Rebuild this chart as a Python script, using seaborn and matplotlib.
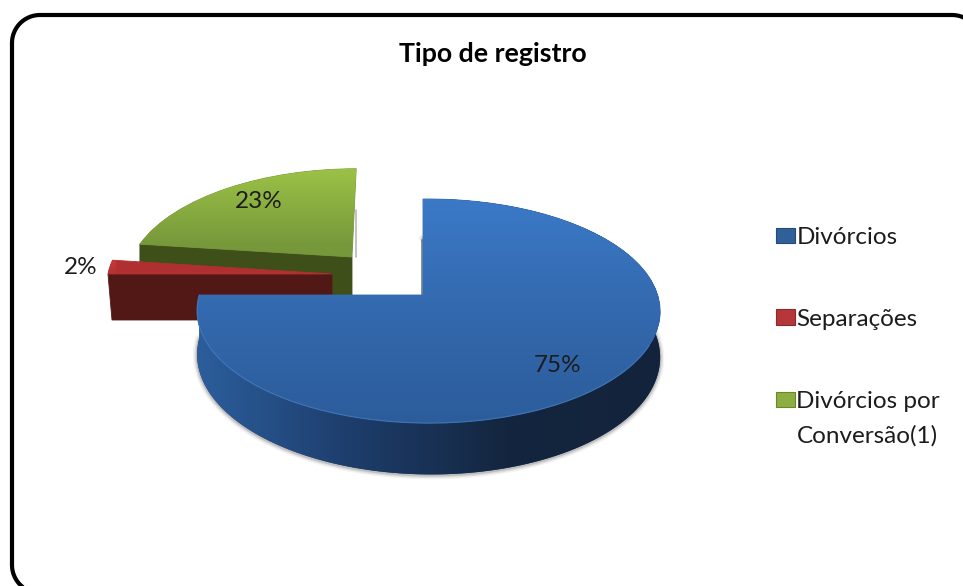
import numpy as np
import matplotlib
matplotlib.use("Agg")
import matplotlib.pyplot as plt
import seaborn as sns
from matplotlib.colors import LinearSegmentedColormap as LSC
from matplotlib.legend_handler import HandlerPatch
from matplotlib.patches import Patch, Polygon, Rectangle
from matplotlib.transforms import Transform

# ---- data ----
categories = ["Divórcios", "Separações", "Divórcios por\nConversão(1)"]
values = [75, 2, 23]
title = "Tipo de registro"

# ---- style ----
sns.set_theme(style="white")
plt.rcParams["font.family"] = ["Lato", "DejaVu Sans"]
TXT = "#1c1c1c"
top_cols = [("#3b7ac8", "#3369ae", "#2c5c9a"), ("#c93a3c", "#b03032"), ("#9dc447", "#76973a")]
side_cols = [("#2c5e9c", "#1d3d6b", "#14263f", "#13233b"), ("#521815", "#521815"), ("#3f4f1a", "#3f4f1a")]
legend_cols = ["#2f6099", "#b5373a", "#8cae40"]
legend_edge = ["#234a78", "#8a2a2b", "#6b8630"]
# per-slice projection: apex px, apex py, a, b, k, m, shear, depth
proj = [(423, 295, 229, 109.7, .143, -.024, 0, 44),
        (332, 274, 224, 112, .10, 0, 0, 46),
        (352, 257, 219.5, 105, .19, 0, 5, 46)]
pct_pos = [(558, 366), (81, 268), (259, 202)]


class Persp(Transform):
    input_dims = output_dims = 2
    has_inverse = False
    is_separable = False

    def __init__(self, p):
        super().__init__()
        self.p = p

    def transform_non_affine(self, xy):
        px, py, a, b, k, m, s, _ = self.p
        xy = np.asarray(xy, float)
        u, v = xy[:, 0], xy[:, 1]
        w = 1 + k * v + m * u
        return np.column_stack([px + (a * u + s * v) / w, py - b * v / w])


def project(p, theta, r=1.0, drop=False):
    px, py, a, b, k, m, s, d = p
    t = np.radians(theta)
    u, v = r * np.cos(t), r * np.sin(t)
    w = 1 + k * v + m * u
    return np.column_stack([px + (a * u + s * v) / w,
                            py - b * v / w + (d / w if drop else 0)])


def gradient(ax, poly_path, transform, colors, horizontal, bounds, z):
    n = 256
    g = np.linspace(0, 1, n)
    g = g.reshape(1, -1) if horizontal else g.reshape(-1, 1)
    x0, x1, y0, y1 = bounds
    im = ax.imshow(g, extent=(x0, x1, y1, y0), origin="upper", aspect="auto",
                   cmap=LSC.from_list("g", list(colors)), interpolation="bilinear", zorder=z)
    im.set_clip_path(poly_path, transform)
    return im


def rounded_outline(x0, y0, x1, y1, r):
    pts = []
    for cx, cy, a0 in [(x1 - r, y0 + r, -90), (x1 - r, y1 - r, 0), (x0 + r, y1 - r, 90), (x0 + r, y0 + r, 180)]:
        t = np.radians(np.linspace(a0, a0 + 90, 24))
        pts.append(np.column_stack([cx + r * np.cos(t), cy + r * np.sin(t)]))
    pts = np.vstack(pts)
    return np.vstack([pts, pts[:1]])


fig = plt.figure(figsize=(9.63, 5.86), dpi=100, facecolor="white")
ax = fig.add_axes([0, 0, 1, 1])
wedges = ax.pie(values, startangle=90, counterclock=False, radius=1)[0]
zbase = {2: 2, 1: 4, 0: 6}

for i, wd in enumerate(wedges):
    p = proj[i]
    z = zbase[i]
    T = Persp(p) + ax.transData
    th = np.linspace(wd.theta1, wd.theta2, 240)
    top = project(p, th)
    low = project(p, th, drop=True)
    x0, x1 = top[:, 0].min() - 3, top[:, 0].max() + 3
    y0, y1 = top[:, 1].min() - 3, top[:, 1].max() + 3
    if i == 0:
        # cylinder wall
        band = Polygon(np.vstack([top, low[::-1]]), closed=True, fc=side_cols[0][1], ec="none", zorder=z)
        ax.add_patch(band)
        # soft shadow below the wall
        for lw, al in [(6, .06), (4, .10), (2, .18)]:
            ax.plot(low[:, 0], low[:, 1] + .8, color="#333333", lw=lw, alpha=al,
                    solid_capstyle="round", zorder=z - .5)
        im = gradient(ax, band.get_path(), ax.transData, side_cols[0], True,
                      (top[:, 0].min(), top[:, 0].max(), low[:, 1].min() - 60, low[:, 1].max() + 2), z + .1)
    else:
        # cut face of the exploded slice (its front straight edge)
        cut_th = wd.theta2
        apex = np.array([[p[0], p[1]]])
        o_t = project(p, np.array([cut_th]))
        o_l = project(p, np.array([cut_th]), drop=True)
        drop_apex = apex + [0, p[7]]
        lean = 4 if i == 1 else 0
        ax.add_patch(Polygon(np.vstack([apex, o_t, o_l + [lean, 0], drop_apex]), closed=True,
                             fc=side_cols[i][0], ec=side_cols[i][0], lw=.6, zorder=z))
    # top face
    wd.set_transform(T)
    wd.set_facecolor(top_cols[i][1])
    wd.set_edgecolor(top_cols[i][1])
    wd.set_linewidth(.6)
    wd.set_zorder(z + .2)
    gradient(ax, wd.get_path(), T, top_cols[i], False, (x0, x1, y0, y1), z + .3)

# bevel highlight on the front rim of the large slice, and small edge shadows
w0 = wedges[0]
th_front = np.linspace(w0.theta1, -25, 200)
rim = project(proj[0], th_front)
ax.plot(rim[:, 0], rim[:, 1], color="#4a80c4", lw=.9, alpha=.55, zorder=7)
ax.plot([421.5, 421.5], [240, 295], color="#26303f", lw=1.4, alpha=.55, zorder=5.5)
ax.plot([356, 356], [210, 257], color="#888888", lw=1.2, alpha=.6, zorder=1.5)

# percentage labels
for v, (x, y) in zip(values, pct_pos):
    ax.text(x, y, f"{v}%", ha="center", va="center", fontsize=17.5, color=TXT, zorder=10)

ax.text(492.5, 54, title, ha="center", va="center", fontsize=19.3, fontweight="bold", color="black", zorder=10)

# outer rounded frame
frame = rounded_outline(12, 15, 980, 593, 28)
ax.plot(frame[:, 0], frame[:, 1], color="black", lw=3, zorder=9, solid_joinstyle="round")


# legend
def first_line_patch(legend, orig_handle, xdescent, ydescent, width, height, fontsize):
    shift = getattr(orig_handle, "_line_shift", 0)
    return Rectangle((-xdescent, -ydescent + shift), width, height)


handles = []
for c, e, lab in zip(legend_cols, legend_edge, categories):
    h = Patch(facecolor=c, edgecolor=e, linewidth=.8)
    h._line_shift = 14 if "\n" in lab else 0
    handles.append(h)
leg = ax.legend(handles, categories, loc="upper left", bbox_to_anchor=(775.5 / 963, 1 - 227 / 586),
                bbox_transform=ax.transAxes, frameon=False, fontsize=17.5,
                labelcolor=TXT, borderpad=0, borderaxespad=0, labelspacing=2.5,
                handlelength=.8, handleheight=.6, handletextpad=.06,
                handler_map={Patch: HandlerPatch(patch_func=first_line_patch)})
leg.set_zorder(10)
for t in leg.get_texts():
    t.set_linespacing(1.8)

ax.set_aspect("auto")
ax.set_xlim(0, 963)
ax.set_ylim(586, 0)
ax.axis("off")
fig.savefig("out.png", dpi=100, facecolor="white")
